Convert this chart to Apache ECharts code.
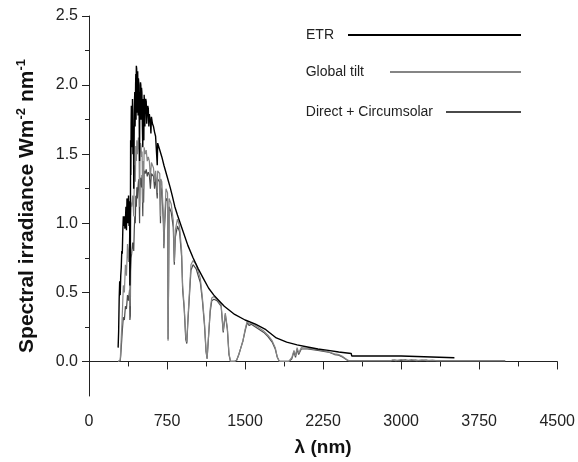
<!DOCTYPE html>
<html>
<head>
<meta charset="utf-8">
<script src="https://cdn.jsdelivr.net/npm/echarts@6/dist/echarts.min.js"></script>
<style>
  html, body { margin: 0; padding: 0; background: #fff; }
  #chart { width: 578px; height: 462px; }
</style>
</head>
<body>
<div id="chart"></div>
<script>
// [wavelength nm, irradiance W m-2 nm-1]
var etr = [
  [280, 0.1], [285, 0.22], [290, 0.45], [295, 0.58], [300, 0.48], [305, 0.62], [310, 0.68], [315, 0.8],
  [320, 0.78], [325, 0.95], [330, 1.05], [335, 0.98], [340, 1.05], [345, 0.96], [350, 1.02], [355, 1.12],
  [360, 0.95], [365, 1.18], [370, 1.12], [375, 1.0], [380, 1.2], [385, 0.98], [390, 1.16], [393, 0.55],
  [397, 0.72], [400, 1.6], [402, 1.35], [405, 1.72], [407, 1.85], [410, 1.8], [412, 1.55], [415, 1.68],
  [418, 1.9], [420, 1.82], [422, 1.5], [425, 1.62], [428, 1.7], [430, 1.25], [432, 1.4], [435, 1.75],
  [438, 1.9], [440, 1.95], [443, 1.7], [445, 1.82], [448, 2.0], [450, 2.08], [452, 1.75], [455, 2.14],
  [458, 2.12], [460, 1.98], [462, 1.8], [465, 2.06], [468, 2.1], [470, 1.96], [472, 1.78], [475, 2.05],
  [478, 2.04], [480, 2.0], [483, 1.7], [486, 1.45], [488, 1.9], [490, 1.95], [493, 1.75], [495, 2.02],
  [498, 2.0], [500, 1.92], [503, 1.75], [505, 1.98], [508, 1.95], [510, 1.88], [513, 1.7], [517, 1.55],
  [520, 1.86], [522, 1.9], [525, 1.65], [527, 1.6], [530, 1.93], [533, 1.88], [537, 1.7], [540, 1.84],
  [545, 1.9], [550, 1.88], [555, 1.72], [560, 1.8], [565, 1.85], [570, 1.83], [575, 1.7], [580, 1.79],
  [585, 1.76], [590, 1.74], [595, 1.65], [600, 1.77], [610, 1.72], [620, 1.7], [630, 1.66], [640, 1.63],
  [656, 1.42], [660, 1.58], [680, 1.53], [700, 1.48], [720, 1.42], [750, 1.34], [780, 1.26], [800, 1.2],
  [825, 1.12], [850, 1.06], [900, 0.95], [950, 0.84], [1000, 0.75], [1050, 0.67], [1100, 0.6], [1150, 0.53],
  [1200, 0.48], [1250, 0.44], [1300, 0.4], [1400, 0.34], [1500, 0.3], [1600, 0.27], [1700, 0.23], [1800, 0.17],
  [1900, 0.14], [2000, 0.12], [2100, 0.105], [2200, 0.09], [2300, 0.08], [2400, 0.068], [2520, 0.058], [2525, 0.04],
  [3000, 0.04], [3005, 0.027], [3512, 0.027]
];

var globalTilt = [
  [280, 0], [295, 0], [300, 0.01], [305, 0.08], [310, 0.17], [315, 0.25], [320, 0.34], [330, 0.55],
  [340, 0.5], [350, 0.7], [360, 0.62], [370, 0.85], [380, 0.72], [390, 0.9], [393, 0.4], [397, 0.5],
  [400, 1.05], [405, 1.15], [410, 1.12], [420, 1.2], [430, 1.05], [435, 1.3], [440, 1.42], [445, 1.3],
  [450, 1.56], [455, 1.45], [460, 1.6], [465, 1.5], [470, 1.55], [475, 1.62], [480, 1.6], [486, 1.12],
  [490, 1.5], [495, 1.58], [500, 1.56], [505, 1.48], [510, 1.52], [517, 1.15], [520, 1.45], [525, 1.25],
  [530, 1.55], [540, 1.5], [550, 1.53], [560, 1.45], [570, 1.48], [580, 1.45], [590, 1.33], [600, 1.44],
  [620, 1.4], [630, 1.3], [640, 1.38], [656, 1.22], [660, 1.38], [680, 1.36], [687, 1.05], [690, 1.32],
  [700, 1.3], [715, 1.05], [720, 0.85], [725, 1.0], [740, 1.25], [755, 1.22], [760, 0.15], [765, 0.6],
  [770, 1.18], [790, 1.14], [810, 1.02], [820, 0.72], [830, 0.95], [850, 1.03], [870, 0.98], [890, 0.8],
  [900, 0.55], [915, 0.4], [930, 0.18], [940, 0.14], [950, 0.3], [965, 0.5], [980, 0.7], [1000, 0.73],
  [1030, 0.7], [1050, 0.65], [1070, 0.6], [1090, 0.46], [1110, 0.28], [1125, 0.08], [1135, 0.02], [1150, 0.2],
  [1165, 0.38], [1180, 0.46], [1200, 0.47], [1230, 0.45], [1250, 0.43], [1270, 0.41], [1290, 0.22], [1310, 0.35],
  [1330, 0.24], [1345, 0.06], [1360, 0], [1400, 0], [1420, 0.01], [1440, 0.05], [1460, 0.1], [1480, 0.15],
  [1500, 0.23], [1520, 0.29], [1540, 0.27], [1560, 0.28], [1600, 0.26], [1640, 0.24], [1680, 0.22], [1720, 0.19],
  [1760, 0.15], [1790, 0.1], [1810, 0.03], [1830, 0], [1920, 0], [1950, 0.03], [1970, 0.08], [1985, 0.04],
  [2000, 0.1], [2015, 0.06], [2040, 0.1], [2100, 0.095], [2200, 0.085], [2300, 0.07], [2360, 0.055], [2400, 0.05],
  [2440, 0.035], [2480, 0.012], [2500, 0.005], [2900, 0.005], [2920, 0.012], [2950, 0.006], [3000, 0.014], [3050, 0.007],
  [3100, 0.013], [3150, 0.006], [3200, 0.011], [3250, 0.006], [3300, 0.01], [3350, 0.005], [4000, 0.005]
];

var directCirc = [
  [280, 0], [295, 0], [300, 0.005], [305, 0.04], [310, 0.1], [315, 0.16], [320, 0.22], [330, 0.32],
  [340, 0.3], [350, 0.4], [360, 0.38], [370, 0.48], [380, 0.44], [390, 0.52], [393, 0.3], [397, 0.33],
  [400, 0.65], [405, 0.75], [410, 0.78], [420, 0.86], [430, 0.8], [435, 0.95], [440, 1.05], [445, 1.0],
  [450, 1.2], [455, 1.12], [460, 1.26], [465, 1.18], [470, 1.25], [475, 1.3], [480, 1.32], [486, 1.0],
  [490, 1.28], [495, 1.33], [500, 1.34], [505, 1.26], [510, 1.35], [517, 1.05], [520, 1.3], [525, 1.15],
  [530, 1.38], [540, 1.36], [550, 1.39], [560, 1.34], [570, 1.37], [580, 1.35], [590, 1.25], [600, 1.36],
  [620, 1.34], [630, 1.25], [640, 1.33], [656, 1.18], [660, 1.32], [680, 1.3], [687, 1.0], [690, 1.26],
  [700, 1.24], [715, 1.0], [720, 0.82], [725, 0.95], [740, 1.18], [755, 1.16], [760, 0.16], [765, 0.56],
  [770, 1.12], [790, 1.08], [810, 0.97], [820, 0.7], [830, 0.9], [850, 0.98], [870, 0.94], [890, 0.76],
  [900, 0.52], [915, 0.38], [930, 0.16], [940, 0.13], [950, 0.28], [965, 0.47], [980, 0.66], [1000, 0.7],
  [1030, 0.67], [1050, 0.62], [1070, 0.57], [1090, 0.44], [1110, 0.26], [1125, 0.07], [1135, 0.02], [1150, 0.19],
  [1165, 0.36], [1180, 0.44], [1200, 0.45], [1230, 0.44], [1250, 0.42], [1270, 0.4], [1290, 0.21], [1310, 0.34],
  [1330, 0.23], [1345, 0.05], [1360, 0], [1400, 0], [1420, 0.01], [1440, 0.05], [1460, 0.1], [1480, 0.15],
  [1500, 0.22], [1520, 0.28], [1540, 0.26], [1560, 0.27], [1600, 0.25], [1640, 0.23], [1680, 0.21], [1720, 0.18],
  [1760, 0.14], [1790, 0.09], [1810, 0.03], [1830, 0], [1920, 0], [1950, 0.02], [1970, 0.07], [1985, 0.03],
  [2000, 0.09], [2015, 0.05], [2040, 0.09], [2100, 0.09], [2200, 0.08], [2300, 0.068], [2360, 0.05], [2400, 0.045],
  [2440, 0.03], [2480, 0.01], [2500, 0.004], [2900, 0.004], [2940, 0.01], [2980, 0.005], [3040, 0.012], [3080, 0.005],
  [3140, 0.01], [3180, 0.005], [3240, 0.009], [3280, 0.004], [4000, 0.004]
];

var yMajorTicks = [0, 0.5, 1.0, 1.5, 2.0, 2.5];
var yMinorTicks = [0.25, 0.75, 1.25, 1.75, 2.25];

var font = 'Liberation Sans, Arial, Helvetica, sans-serif';
var axisColor = '#222';

var myChart = echarts.init(document.getElementById('chart'));

// legend: text on the left, line on the right, lines all end at the same x
function legendFor(name, top, lineLen, padRight) {
    return {
        data: [name],
        top: top,
        right: 56,
        padding: 0,
        align: 'right',
        itemWidth: lineLen,
        itemHeight: 10,
        selectedMode: false,
        itemStyle: { opacity: 0 },
        textStyle: {
            fontFamily: font,
            fontSize: 14,
            color: '#222',
            padding: [0, padRight, 0, 0]
        }
    };
}

var option = {
    animation: false,
    grid: {
        left: 89,
        right: 20,
        top: 16,
        bottom: 65,
        containLabel: false
    },
    legend: [
        legendFor('ETR', 28, 173, 9),
        legendFor('Global tilt', 65, 131, 21),
        legendFor('Direct + Circumsolar', 105, 75, 8)
    ],
    xAxis: {
        type: 'value',
        min: 0,
        max: 4500,
        interval: 750,
        name: 'λ (nm)',
        nameLocation: 'middle',
        nameGap: 42,
        nameTextStyle: {
            fontFamily: font,
            fontSize: 19,
            fontWeight: 'bold',
            color: '#111'
        },
        axisLine: { lineStyle: { color: axisColor, width: 1 } },
        axisTick: { length: 8, lineStyle: { color: axisColor } },
        minorTick: { show: true, splitNumber: 2, length: 5, lineStyle: { color: axisColor } },
        splitLine: { show: false },
        axisLabel: {
            fontFamily: font,
            fontSize: 16,
            color: '#222',
            margin: 18,
            formatter: function (v) { return String(v); }
        }
    },
    yAxis: [{
        type: 'value',
        min: -0.25,
        max: 2.5,
        name: '{b|Spectral irradiance Wm}{s|-2}{b| nm}{s|-1}',
        nameLocation: 'middle',
        nameGap: 50,
        nameTextStyle: {
            rich: {
                b: { fontFamily: font, fontSize: 21, fontWeight: 'bold', color: '#111', lineHeight: 24 },
                s: { fontFamily: font, fontSize: 13, fontWeight: 'bold', color: '#111', verticalAlign: 'top', lineHeight: 13 }
            }
        },
        axisLine: { show: true, lineStyle: { color: axisColor, width: 1 } },
        axisTick: { show: true, length: 7, customValues: yMajorTicks, lineStyle: { color: axisColor } },
        splitLine: { show: false },
        axisLabel: {
            customValues: yMajorTicks,
            fontFamily: font,
            fontSize: 16,
            color: '#222',
            margin: 11,
            formatter: function (v) { return v.toFixed(1); }
        }
    }, {
        type: 'value',
        position: 'left',
        min: -0.25,
        max: 2.5,
        axisLine: { show: false },
        axisTick: { show: true, length: 4, customValues: yMinorTicks, lineStyle: { color: axisColor } },
        axisLabel: { show: false },
        splitLine: { show: false }
    }],
    series: [{
        name: 'Direct + Circumsolar',
        type: 'line',
        symbol: 'none',
        data: directCirc,
        color: '#4a4a4a',
        lineStyle: { color: '#4a4a4a', width: 1.2 }
    }, {
        name: 'Global tilt',
        type: 'line',
        symbol: 'none',
        data: globalTilt,
        color: '#858585',
        lineStyle: { color: '#858585', width: 1.2 }
    }, {
        name: 'ETR',
        type: 'line',
        symbol: 'none',
        data: etr,
        color: '#000',
        lineStyle: { color: '#000', width: 1.4 }
    }]
};
myChart.setOption(option);
</script>
</body>
</html>
